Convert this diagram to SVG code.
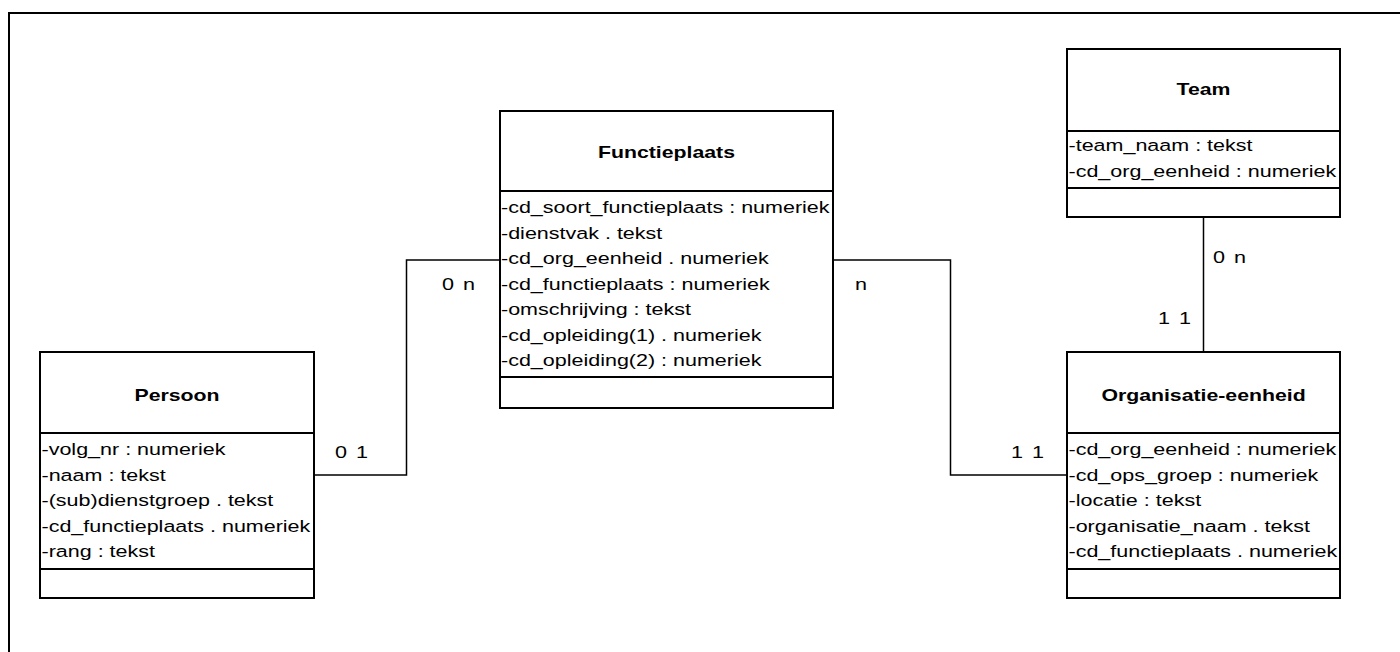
<svg xmlns="http://www.w3.org/2000/svg" width="1400" height="652" viewBox="0 0 1400 652">
<style>
text{font-family:"Liberation Sans",Arial,sans-serif;font-size:17px;fill:#000}
.t{font-weight:bold;text-anchor:middle}
.box{fill:#fff;stroke:#000;stroke-width:2}
.div{stroke:#000;stroke-width:2}
.con{fill:none;stroke:#000;stroke-width:1.5}
.frame{fill:none;stroke:#000;stroke-width:2}
</style>
<rect width="1400" height="652" fill="#fff"/>
<path class="frame" d="M9 652 V13 H1400"/>
<g id="connectors">
<path class="con" d="M314 475 H406.5 V260 H500"/>
<path class="con" d="M833 260 H950.5 V475 H1067"/>
<path class="con" stroke="#444" d="M1203.5 217 V351"/>
<text transform="translate(335 458) scale(1.27 1)">0<tspan dx="7">1</tspan></text>
<text transform="translate(442 290) scale(1.27 1)">0<tspan dx="7">n</tspan></text>
<text transform="translate(855 290) scale(1.27 1)">n</text>
<text transform="translate(1011 458) scale(1.27 1)">1<tspan dx="7">1</tspan></text>
<text transform="translate(1213 263) scale(1.27 1)">0<tspan dx="7">n</tspan></text>
<text transform="translate(1158 324) scale(1.27 1)">1<tspan dx="7">1</tspan></text>
</g>
<g id="functieplaats">
<rect class="box" x="500" y="111" width="333" height="297"/>
<line class="div" x1="500" y1="191" x2="833" y2="191"/>
<line class="div" x1="500" y1="377" x2="833" y2="377"/>
<text class="t" transform="translate(666.5 158) scale(1.25 1)">Functieplaats</text>
<text transform="translate(501 213) scale(1.265 1)">-cd_soort_functieplaats : numeriek</text>
<text transform="translate(501 238.5) scale(1.265 1)">-dienstvak . tekst</text>
<text transform="translate(501 264) scale(1.265 1)">-cd_org_eenheid . numeriek</text>
<text transform="translate(501 289.5) scale(1.265 1)">-cd_functieplaats : numeriek</text>
<text transform="translate(501 315) scale(1.265 1)">-omschrijving : tekst</text>
<text transform="translate(501 340.5) scale(1.265 1)">-cd_opleiding(1) . numeriek</text>
<text transform="translate(501 366) scale(1.265 1)">-cd_opleiding(2) : numeriek</text>
</g>
<g id="persoon">
<rect class="box" x="40" y="352" width="274" height="246"/>
<line class="div" x1="40" y1="433" x2="314" y2="433"/>
<line class="div" x1="40" y1="569" x2="314" y2="569"/>
<text class="t" transform="translate(177 401) scale(1.25 1)">Persoon</text>
<text transform="translate(41.5 455) scale(1.265 1)">-volg_nr : numeriek</text>
<text transform="translate(41.5 480.5) scale(1.265 1)">-naam : tekst</text>
<text transform="translate(41.5 506) scale(1.265 1)">-(sub)dienstgroep . tekst</text>
<text transform="translate(41.5 531.5) scale(1.265 1)">-cd_functieplaats . numeriek</text>
<text transform="translate(41.5 557) scale(1.265 1)">-rang : tekst</text>
</g>
<g id="organisatie-eenheid">
<rect class="box" x="1067" y="352" width="273" height="246"/>
<line class="div" x1="1067" y1="433" x2="1340" y2="433"/>
<line class="div" x1="1067" y1="569" x2="1340" y2="569"/>
<text class="t" transform="translate(1203.5 401) scale(1.25 1)">Organisatie-eenheid</text>
<text transform="translate(1068.5 455) scale(1.265 1)">-cd_org_eenheid : numeriek</text>
<text transform="translate(1068.5 480.5) scale(1.265 1)">-cd_ops_groep : numeriek</text>
<text transform="translate(1068.5 506) scale(1.265 1)">-locatie : tekst</text>
<text transform="translate(1068.5 531.5) scale(1.265 1)">-organisatie_naam . tekst</text>
<text transform="translate(1068.5 557) scale(1.265 1)">-cd_functieplaats . numeriek</text>
</g>
<g id="team">
<rect class="box" x="1067" y="49" width="273" height="168"/>
<line class="div" x1="1067" y1="131" x2="1340" y2="131"/>
<line class="div" x1="1067" y1="188" x2="1340" y2="188"/>
<text class="t" transform="translate(1203.5 95) scale(1.25 1)">Team</text>
<text transform="translate(1068.5 151) scale(1.265 1)">-team_naam : tekst</text>
<text transform="translate(1068.5 176.5) scale(1.265 1)">-cd_org_eenheid : numeriek</text>
</g>
</svg>
